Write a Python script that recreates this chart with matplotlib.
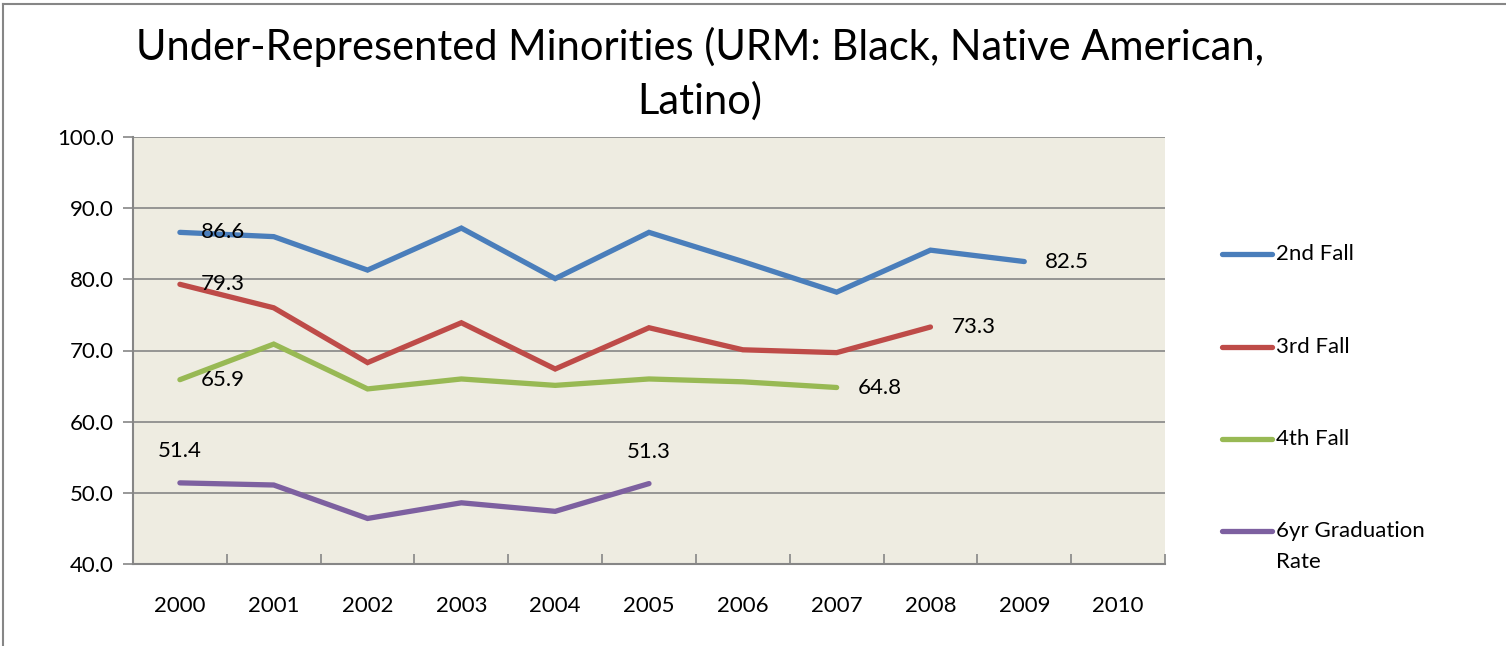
import matplotlib
matplotlib.use("Agg")
import matplotlib.pyplot as plt
from matplotlib.lines import Line2D
import numpy as np

plt.rcParams['font.family'] = ['Lato', 'DejaVu Sans']

years = ['2000', '2001', '2002', '2003', '2004', '2005', '2006', '2007', '2008', '2009', '2010']
series_names = ['2nd Fall', '3rd Fall', '4th Fall', '6yr Graduation\nRate']
fall2 = [86.6, 86.0, 81.3, 87.2, 80.1, 86.6, 82.5, 78.2, 84.1, 82.5]
fall3 = [79.3, 76.0, 68.3, 73.9, 67.4, 73.2, 70.1, 69.7, 73.3]
fall4 = [65.9, 70.9, 64.6, 66.0, 65.1, 66.0, 65.6, 64.8]
grad6 = [51.4, 51.1, 46.4, 48.6, 47.4, 51.3]
colors = ['#4A7EBB', '#BE4B48', '#98B954', '#7D60A0']
title = 'Under-Represented Minorities (URM: Black, Native American,\nLatino)'

W, H = 1506, 646
fig = plt.figure(figsize=(W / 100, H / 100), dpi=100)
fig.patch.set_facecolor('white')

def fx(px):
    return px / W

def fy(py):
    return 1 - py / H

ax = fig.add_axes([fx(133), fy(564), fx(1165) - fx(133), fy(137) - fy(564)])
ax.set_facecolor('#EEECE1')

all_series = [fall2, fall3, fall4, grad6]
for vals, c in zip(all_series, colors):
    x = np.arange(len(vals))
    ax.plot(x, vals, color=c, lw=3.8, solid_capstyle='round', solid_joinstyle='miter', zorder=3)

FS = 16
# data labels
lab_kw = dict(fontsize=FS, color='black', zorder=4)
for vals in [fall2, fall3, fall4]:
    for i in [0, len(vals) - 1]:
        ax.annotate(f'{vals[i]:.1f}', (i, vals[i]), xytext=(15, 0), textcoords='offset points',
                    ha='left', va='center', **lab_kw)
for i in [0, len(grad6) - 1]:
    ax.annotate(f'{grad6[i]:.1f}', (i, grad6[i]), xytext=(0, 23), textcoords='offset points',
                ha='center', va='center', **lab_kw)

ax.set_xlim(-0.5, len(years) - 0.5)
ax.set_ylim(40, 100)
ax.set_yticks(np.arange(40, 101, 10))
ax.set_yticklabels([f'{v:.1f}' for v in np.arange(40, 101, 10)])
ax.set_xticks(np.arange(len(years)))
ax.set_xticklabels(years)
ax.set_xticks(np.arange(len(years) + 1) - 0.5, minor=True)
ax.tick_params(axis='x', which='major', length=0, pad=23, labelsize=FS)
ax.tick_params(axis='x', which='minor', direction='in', length=7, color='#868686', width=1.2)
ax.tick_params(axis='y', which='major', direction='out', length=7, color='#868686', width=1.2,
               pad=7, labelsize=FS)
ax.grid(axis='y', color='#868686', lw=1.2, zorder=1)
ax.set_axisbelow(True)
for s in ['top', 'right']:
    ax.spines[s].set_visible(False)
for s in ['left', 'bottom']:
    ax.spines[s].set_color('#868686')
    ax.spines[s].set_linewidth(1.5)

# title
fig.text(fx(700), fy(74), title, ha='center', va='center', fontsize=30, linespacing=1.43)

# legend
leg_y = [254, 347, 439, 531]
for name, c, yy in zip(series_names, colors, leg_y):
    fig.add_artist(Line2D([fx(1222), fx(1272)], [fy(yy), fy(yy)], color=c, lw=3.8,
                          solid_capstyle='round', transform=fig.transFigure))
    fig.text(fx(1276), fy(yy), name.split('\n')[0], ha='left', va='center', fontsize=FS)
    if '\n' in name:
        fig.text(fx(1276), fy(yy + 31), name.split('\n')[1], ha='left', va='center', fontsize=FS)

# outer frame (top and left visible)
fig.add_artist(Line2D([fx(3), fx(1506)], [fy(4), fy(4)], color='#868686', lw=1.5, transform=fig.transFigure))
fig.add_artist(Line2D([fx(3), fx(3)], [fy(4), fy(646)], color='#868686', lw=1.5, transform=fig.transFigure))

fig.savefig('out.png', dpi=100, facecolor='white')
